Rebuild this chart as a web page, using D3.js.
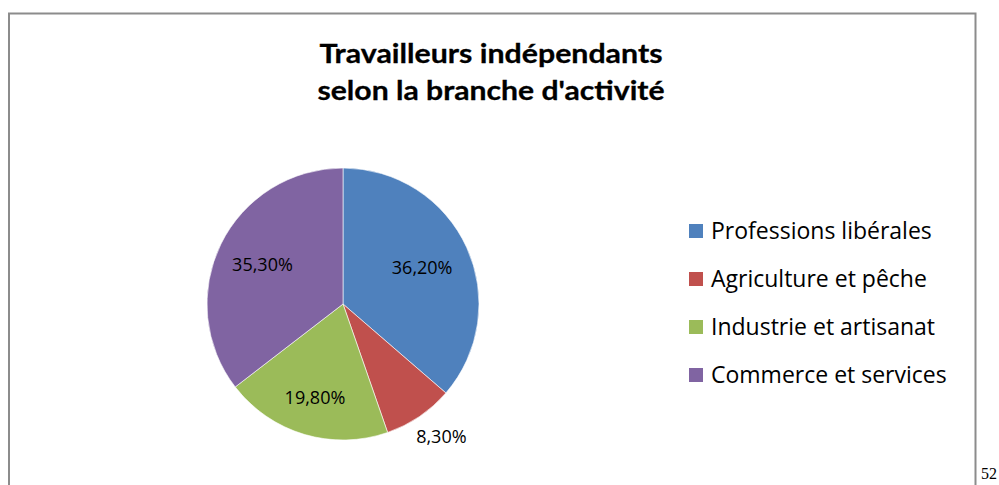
<!DOCTYPE html>
<html>
<head>
<meta charset="utf-8">
<script src="https://cdn.jsdelivr.net/npm/d3@7"></script>
<style>
  html, body { margin: 0; padding: 0; background: #fff; }
  svg { display: block; }
</style>
</head>
<body>
<svg id="chart" width="999" height="485"></svg>
<script>
  // Data
  var categories = ["Professions libérales", "Agriculture et pêche", "Industrie et artisanat", "Commerce et services"];
  var values = [36.2, 8.3, 19.8, 35.3];
  var labels = ["36,20%", "8,30%", "19,80%", "35,30%"];
  var colors = ["#4F81BD", "#C0504D", "#9BBB59", "#8064A2"];
  var titleLines = ["Travailleurs indépendants", "selon la branche d'activité"];

  var svg = d3.select("#chart");
  var font = "'Open Sans', Lato, sans-serif";

  // frame (chart area border, bottom runs off the page)
  svg.append("path")
    .attr("d", "M9,500 V13.5 H975.5 V500")
    .attr("fill", "none").attr("stroke", "#8c8c8c").attr("stroke-width", 2);

  // page number
  svg.append("text").attr("x", 981).attr("y", 479)
    .attr("font-family", "'Liberation Serif', serif").attr("font-size", 16)
    .attr("fill", "#000").text("52");

  // title
  svg.append("g").selectAll("text").data(titleLines).join("text")
    .attr("x", 491).attr("y", function (d, i) { return 63 + i * 37; })
    .attr("text-anchor", "middle")
    .attr("font-family", "Lato, sans-serif").attr("font-weight", "bold").attr("font-size", 27)
    .attr("textLength", function (d, i) { return i ? 347 : 343; })
    .attr("lengthAdjust", "spacingAndGlyphs")
    .attr("stroke", "#000").attr("stroke-width", 0.3)
    .attr("fill", "#000").text(function (d) { return d; });

  // pie
  var cx = 343, cy = 304, r = 136;
  var pie = d3.pie().sort(null)(values);
  var arc = d3.arc().innerRadius(0).outerRadius(r);
  var g = svg.append("g").attr("transform", "translate(" + cx + "," + cy + ")");
  g.selectAll("path").data(pie).join("path")
    .attr("d", arc)
    .attr("fill", function (d, i) { return colors[i]; })
    .attr("stroke", "#fff").attr("stroke-width", 0.6);

  // data labels: inside (best fit), small slice at outside end
  var inside = [0.64, null, 0.72, 0.66];
  var lbl = g.selectAll("text").data(pie).join("text")
    .attr("text-anchor", "middle").attr("dy", "0.36em")
    .attr("font-family", font).attr("font-size", 18).attr("fill", "#000")
    .text(function (d, i) { return labels[i]; });
  lbl.attr("transform", function (d, i) {
    var a = (d.startAngle + d.endAngle) / 2, s = Math.sin(a), c = -Math.cos(a), x, y;
    if (inside[i] != null) {
      x = s * r * inside[i]; y = c * r * inside[i];
    } else {
      var w = this.getComputedTextLength(), h = 20, rr = r + 14;
      x = s * rr + s * w / 2; y = c * rr + c * h / 2;
    }
    return "translate(" + x + "," + y + ")";
  });

  // legend
  var leg = svg.append("g").attr("transform", "translate(689,231)");
  var rows = leg.selectAll("g").data(categories).join("g")
    .attr("transform", function (d, i) { return "translate(0," + (i * 48) + ")"; });
  rows.append("rect").attr("x", 0).attr("y", -7).attr("width", 14).attr("height", 14)
    .attr("fill", function (d, i) { return colors[i]; });
  rows.append("text").attr("x", 22).attr("dy", "0.36em")
    .attr("font-family", font).attr("font-size", 23).attr("fill", "#000")
    .text(function (d) { return d; });
</script>
</body>
</html>
